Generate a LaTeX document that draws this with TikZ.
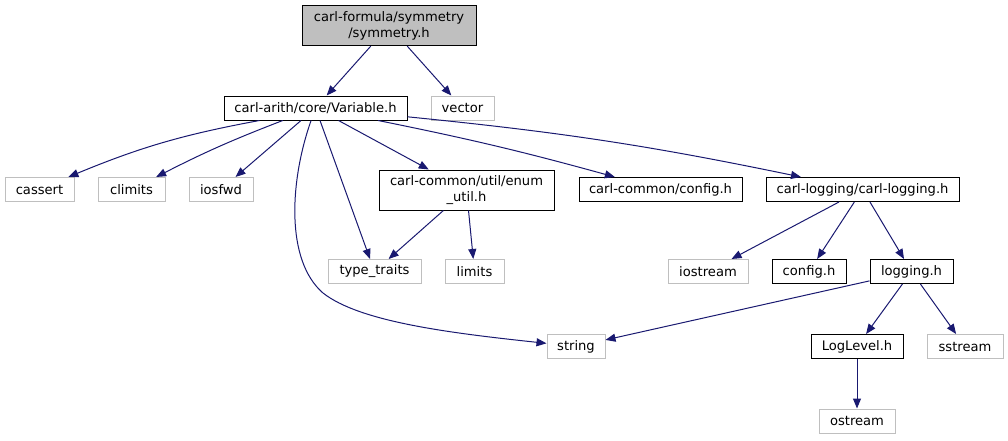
\documentclass[tikz,border=0pt]{standalone}
\usepackage{fontspec}
\setmainfont{DejaVu Sans}
\usetikzlibrary{arrows.meta}
\definecolor{edgeblue}{HTML}{191970}
\definecolor{sysgray}{HTML}{BFBFBF}

\begin{document}
\begin{tikzpicture}[x=1pt,y=1pt,
    every node/.style={font=\fontsize{13.1}{15.5}\selectfont, inner sep=0pt,
      minimum height=24pt, align=center},
    file/.style={draw=black, line width=1pt},
    sysfile/.style={draw=sysgray, line width=1pt},
    edge/.style={draw=edgeblue, line width=1pt,
      -{Triangle[length=10pt,width=8pt]}}]
  \useasboundingbox (0,0) rectangle (1008,-440);
  % top
  \node[file, fill=sysgray, minimum width=174pt, minimum height=40pt] (root) at (389,-25.7) {carl-formula/symmetry\\/symmetry.h};
  \node[file, minimum width=183pt] (var) at (315.5,-108) {carl-arith/core/Variable.h};
  \node[sysfile, minimum width=63pt] (vector) at (462.5,-108) {vector};
  % second row
  \node[sysfile, minimum width=69pt] (cassert) at (39.5,-189.5) {cassert};
  \node[sysfile, minimum width=67pt] (climits) at (131.5,-189.5) {climits};
  \node[sysfile, minimum width=64pt] (iosfwd) at (221,-189.5) {iosfwd};
  \node[file, minimum width=175pt, minimum height=40pt] (enum) at (466.5,-190) {carl-common/util/enum\\\_util.h};
  \node[file, minimum width=163pt] (cconfig) at (660.5,-189.5) {carl-common/config.h};
  \node[file, minimum width=193pt] (carllog) at (862.5,-189.5) {carl-logging/carl-logging.h};
  % third row
  \node[sysfile, minimum width=93pt] (typetraits) at (374.5,-271.5) {type\_traits};
  \node[sysfile, minimum width=59pt] (limits) at (474.5,-271.5) {limits};
  \node[sysfile, minimum width=80pt] (iostream) at (708,-271.5) {iostream};
  \node[file, minimum width=74pt] (config) at (809,-271.5) {config.h};
  \node[file, minimum width=83pt] (logging) at (911.5,-271.5) {logging.h};
  % bottom
  \node[sysfile, minimum width=58pt] (string) at (576,-346.5) {string};
  \node[file, minimum width=92pt] (loglevel) at (857,-346.5) {LogLevel.h};
  \node[sysfile, minimum width=76pt] (sstream) at (965,-346.5) {sstream};
  \node[sysfile, minimum width=76pt] (ostream) at (857,-421) {ostream};

  \draw[edge] (root) -- (var);
  \draw[edge] (root) -- (vector);
  \draw[edge] ([xshift=36pt]var.south west) to[bend right=6] (cassert);
  \draw[edge] (var) to[bend right=3] (climits);
  \draw[edge] (var) -- (iosfwd);
  \draw[edge] (var) .. controls (290,-180) and (285,-260) .. (323,-293)
    .. controls (360,-322) and (450,-333) .. (string);
  \draw[edge] (var) -- (typetraits);
  \draw[edge] (var) -- (enum);
  \draw[edge] (var) to[bend left=2] (cconfig);
  \draw[edge] (var) to[bend left=3] (carllog);
  \draw[edge] (enum) -- (typetraits);
  \draw[edge] (enum) -- (limits);
  \draw[edge] (carllog) -- (iostream);
  \draw[edge] (carllog) -- (config);
  \draw[edge] (carllog) -- (logging);
  \draw[edge] (logging) -- (string);
  \draw[edge] (logging) -- (loglevel);
  \draw[edge] (logging) -- (sstream);
  \draw[edge] (loglevel) -- (ostream);
\end{tikzpicture}
\end{document}
